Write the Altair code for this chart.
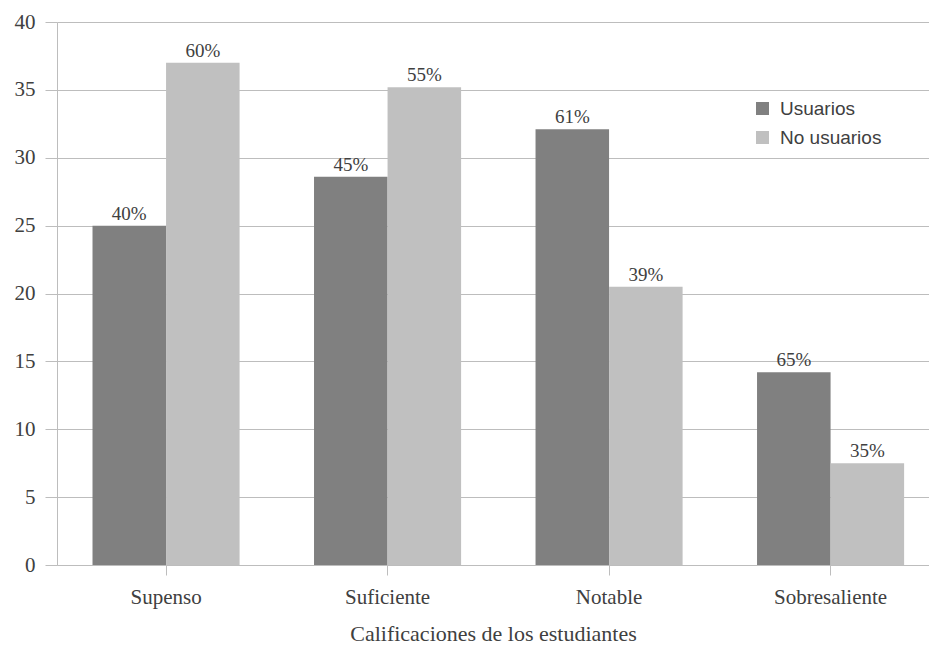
import altair as alt
import pandas as pd

# Grades and the two student groups
categorias = ["Supenso", "Suficiente", "Notable", "Sobresaliente"]
series = ["Usuarios", "No usuarios"]
usuarios = [25.0, 28.6, 32.1, 14.2]
no_usuarios = [37.0, 35.2, 20.5, 7.5]
pct_usuarios = ["40%", "45%", "61%", "65%"]
pct_no_usuarios = ["60%", "55%", "39%", "35%"]

rows = []
for c, u, n, pu, pn in zip(categorias, usuarios, no_usuarios, pct_usuarios, pct_no_usuarios):
    rows.append({"cat": c, "serie": series[0], "valor": u, "pct": pu})
    rows.append({"cat": c, "serie": series[1], "valor": n, "pct": pn})
df = pd.DataFrame(rows)

GRID = "#bdbdbd"
TEXT = "#404040"
SERIF = "Liberation Serif"

x_enc = alt.X(
    "cat:N",
    sort=categorias,
    title="Calificaciones de los estudiantes",
    scale=alt.Scale(paddingInner=0.336, paddingOuter=0.1363, align=0.588),
    axis=alt.Axis(
        labelAngle=0,
        labelFont=SERIF,
        labelFontSize=21,
        labelColor=TEXT,
        labelPadding=11,
        tickSize=10,
        tickColor=GRID,
        domainColor=GRID,
        titleFont=SERIF,
        titleFontSize=22,
        titleFontWeight="normal",
        titleColor=TEXT,
        titlePadding=16,
    ),
)
xoff = alt.XOffset("serie:N", sort=series, scale=alt.Scale(domain=series))

bars = alt.Chart(df).mark_bar().encode(
    x=x_enc,
    xOffset=xoff,
    y=alt.Y(
        "valor:Q",
        title=None,
        scale=alt.Scale(domain=[0, 40], nice=False),
        axis=alt.Axis(
            values=[0, 5, 10, 15, 20, 25, 30, 35, 40],
            labelFont=SERIF,
            labelFontSize=21,
            labelColor=TEXT,
            labelPadding=10,
            tickSize=12,
            tickColor=GRID,
            domainColor=GRID,
            gridColor=GRID,
            grid=True,
        ),
    ),
    color=alt.Color(
        "serie:N",
        sort=series,
        scale=alt.Scale(domain=series, range=["#808080", "#c0c0c0"]),
        legend=alt.Legend(
            title=None,
            orient="none",
            legendX=696,
            legendY=77,
            symbolType="square",
            symbolSize=169,
            symbolStrokeWidth=0,
            labelFont="Liberation Sans",
            labelFontSize=19,
            labelColor=TEXT,
            labelOffset=8,
            rowPadding=9,
            padding=0,
        ),
    ),
)

labels = alt.Chart(df).mark_text(
    baseline="alphabetic", dy=-6, font=SERIF, fontSize=19, color=TEXT
).encode(
    x=alt.X("cat:N", sort=categorias),
    xOffset=xoff,
    y=alt.Y("valor:Q"),
    text="pct:N",
)

chart = (
    alt.layer(bars, labels)
    .properties(
        width=872,
        height=543,
        autosize=alt.AutoSizeParams(type="none"),
        padding={"left": 57, "top": 22, "right": 0, "bottom": 84},
        background="white",
    )
    .configure_view(stroke=None)
    .configure_axis(gridWidth=1)
)

chart.save("out.html", embed_options={"renderer": "svg", "actions": False})
